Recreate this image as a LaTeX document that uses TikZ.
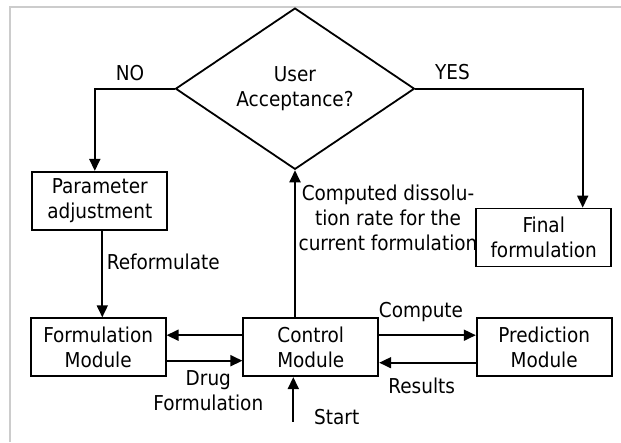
\documentclass[tikz,border=0pt]{standalone}
\usepackage{fontspec}
\setmainfont{DejaVu Sans Condensed}
\usetikzlibrary{arrows.meta,shapes.geometric,calc}
\begin{document}
\begin{tikzpicture}[x=1pt,y=-1pt,
  font=\fontsize{20.5}{25}\selectfont,
  box/.style={draw,line width=1.8pt,minimum width=135pt,minimum height=58pt,inner sep=0pt,align=center},
  dec/.style={draw,line width=1.8pt,diamond,minimum width=239pt,minimum height=134pt,inner sep=0pt,align=center},
  arr/.style={line width=1.8pt,-{Triangle[length=12pt,width=11pt]}},
  ln/.style={line width=1.8pt},
  lbl/.style={inner sep=0pt,align=center}]
\useasboundingbox (0,0) rectangle (621,442);
\fill[white] (0,0) rectangle (621,442);
\draw[line width=2pt,color=black!20] (10,442) -- (10,7.3) -- (621,7.3);
% nodes
\node[dec] (dia) at (295,88.7) {User\\Acceptance?};
\node[box] (param) at (99.8,200.8) {Parameter\\adjustment};
\node[box] (final) at (543.7,237.5) {Final\\formulation};
\node[box] (form) at (98.2,347.2) {Formulation\\Module};
\node[box] (ctrl) at (310.8,347.2) {Control\\Module};
\node[box] (pred) at (544.2,347.2) {Prediction\\Module};
\coordinate (start) at (293.3,421.7);
% connectors
\draw[arr] (dia.west) -| ([xshift=-5pt]param.north);
\draw[arr] (dia.east) -| ([xshift=39pt]final.north);
\draw[arr] ([xshift=2.5pt]param.south) -- ([xshift=2.5pt]param.south |- form.north);
\draw[arr] (dia.south |- ctrl.north) -- (dia.south);
\draw[arr] (start) -- (start |- ctrl.south);
\draw[arr] ([yshift=12pt]ctrl.west) -- ([yshift=12pt]form.east);
\draw[arr] ([yshift=-13.5pt]form.east) -- ([yshift=-13.5pt]ctrl.west);
\draw[arr] ([yshift=12pt]ctrl.east) -- ([yshift=12pt]pred.west);
\draw[arr] ([yshift=-15.5pt]pred.west) -- ([yshift=-15.5pt]ctrl.east);
% labels
\node[lbl] (no) at (130,73) {NO};
\node[lbl] (yes) at (452.5,72) {YES};
\node[lbl] (refo) at (163.3,261.7) {Reformulate};
\node[lbl] (comp) at (388,218) {Computed dissolu-\\tion rate for the\\current formulation};
\node[lbl] (cmp) at (421,311.7) {Compute};
\node[lbl] (res) at (421.7,385.7) {Results};
\node[lbl] (drug) at (208.3,391) {Drug\\Formulation};
\node[lbl] (st) at (336.7,416.7) {Start};
\end{tikzpicture}
\end{document}
